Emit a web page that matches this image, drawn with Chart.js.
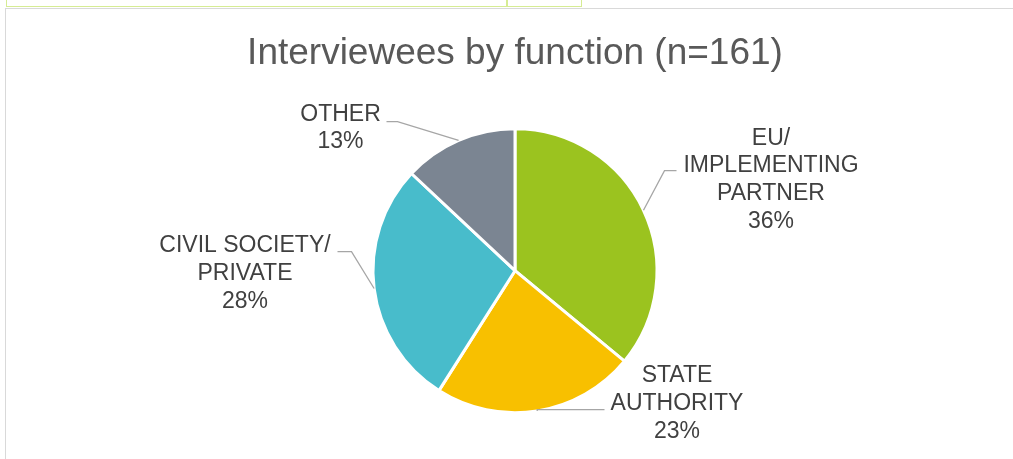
<!DOCTYPE html>
<html>
<head>
<meta charset="utf-8">
<script src="https://cdn.jsdelivr.net/npm/chart.js@4/dist/chart.umd.min.js"></script>
<style>
  html, body { margin: 0; padding: 0; background: #fff; }
  #wrap { position: relative; width: 1013px; height: 459px; overflow: hidden; }
  #chart { position: absolute; left: 0; top: 0; }
  .frame { position: absolute; left: 5px; top: 8px; width: 1100px; height: 500px;
           border-left: 1px solid #d9d9d9; border-top: 1px solid #d9d9d9; }
  .cell { position: absolute; top: -2px; height: 8px; border: 1px solid #d6ec94; border-top: none; }
</style>
</head>
<body>
<div id="wrap">
  <div class="cell" style="left:6px;width:500px"></div>
  <div class="cell" style="left:506px;width:74px"></div>
  <div class="frame"></div>
  <canvas id="chart" width="1013" height="459"></canvas>
</div>
<script>
const categories = [
  ['EU/', 'IMPLEMENTING', 'PARTNER'],
  ['STATE', 'AUTHORITY'],
  ['CIVIL SOCIETY/', 'PRIVATE'],
  ['OTHER'],
];
const shares = [36, 23, 28, 13];
const colors = ['#9bc31f', '#f8c000', '#48bccb', '#7b8592'];

// label placement, px relative to the pie centre
// text: centre x / first line y; elbow and end of the leader line
const labelLayout = [
  { tx: 256, ty: -132.5, ex: 149.5, ey: -100, endX: 161.5 },
  { tx: 162, ty: 105, ex: null, ey: 139, endX: 89.5 },
  { tx: -270, ty: -25, ex: -163.5, ey: -19, endX: -177.5 },
  { tx: -174.5, ty: -156.5, ex: -117.5, ey: -149, endX: -128.5 },
];

const outsideLabels = {
  id: 'outsideLabels',
  afterDatasetsDraw(chart) {
    const ctx = chart.ctx;
    const arcs = chart.getDatasetMeta(0).data;
    ctx.save();
    arcs.forEach((arc, i) => {
      const { x, y, startAngle, endAngle, outerRadius } = arc.getProps(
        ['x', 'y', 'startAngle', 'endAngle', 'outerRadius'], true);
      const mid = (startAngle + endAngle) / 2;
      const ax = x + Math.cos(mid) * outerRadius;
      const ay = y + Math.sin(mid) * outerRadius;
      const l = labelLayout[i];
      const ex = l.ex === null ? ax : x + l.ex;
      const ey = y + l.ey;

      ctx.strokeStyle = '#a6a6a6';
      ctx.lineWidth = 1.3;
      ctx.beginPath();
      ctx.moveTo(ax, ay);
      ctx.lineTo(ex, ey);
      ctx.lineTo(x + l.endX, ey);
      ctx.stroke();

      const lines = categories[i].concat([shares[i] + '%']);
      ctx.fillStyle = '#404040';
      ctx.font = '23px "Liberation Sans", Arial, sans-serif';
      ctx.textAlign = 'center';
      ctx.textBaseline = 'middle';
      lines.forEach((t, k) => {
        ctx.fillText(t, x + l.tx, y + l.ty + k * 27.8);
      });
    });
    ctx.restore();
  }
};

new Chart(document.getElementById('chart'), {
  type: 'pie',
  data: {
    labels: categories.map(c => c.join(' ')),
    datasets: [{
      data: shares,
      backgroundColor: colors,
      borderColor: '#ffffff',
      borderWidth: 3,
      radius: 142,
    }]
  },
  options: {
    responsive: false,
    animation: false,
    layout: { padding: { left: 17, right: 0, top: 0, bottom: 37 } },
    plugins: {
      legend: { display: false },
      tooltip: { enabled: false },
      title: {
        display: true,
        text: 'Interviewees by function (n=161)',
        color: '#595959',
        font: { family: '"Liberation Sans", Arial, sans-serif', size: 37, weight: 'normal' },
        padding: { top: 32, bottom: 43 },
      },
    },
  },
  plugins: [outsideLabels],
});
</script>
</body>
</html>
